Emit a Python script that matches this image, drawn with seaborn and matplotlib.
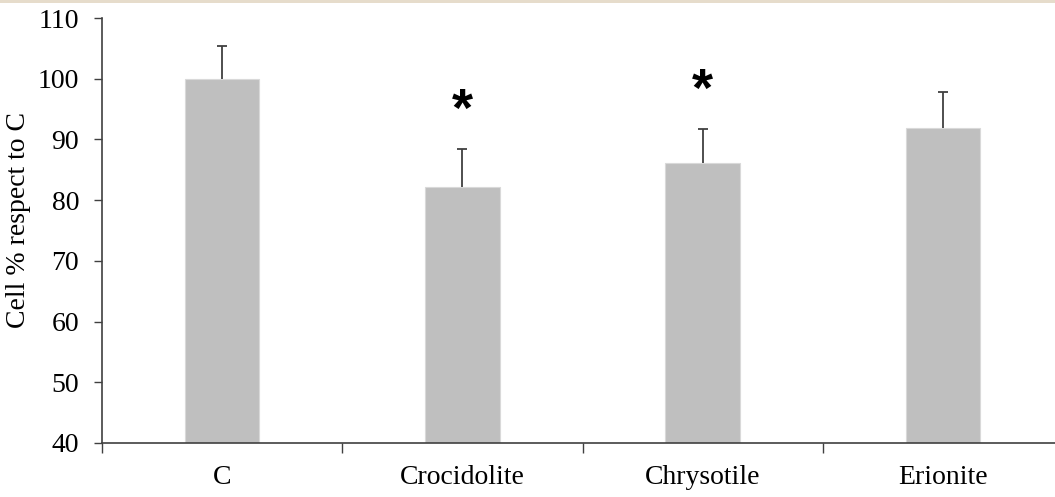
import matplotlib
matplotlib.use("Agg")
import matplotlib.pyplot as plt
import seaborn as sns
import pandas as pd
from matplotlib.patches import Rectangle
from matplotlib.ticker import FixedLocator, NullFormatter

# Cell viability relative to control
categories = ["C", "Crocidolite", "Chrysotile", "Erionite"]
means = [100.0, 82.1, 86.2, 91.9]
errors = [5.4, 6.3, 5.5, 5.9]
significant = [False, True, True, False]

sns.set_theme(style="white")
plt.rcParams["font.family"] = ["Liberation Serif", "DejaVu Serif"]
plt.rcParams["text.color"] = "black"
plt.rcParams["axes.labelcolor"] = "black"
plt.rcParams["xtick.color"] = "black"
plt.rcParams["ytick.color"] = "black"

df = pd.DataFrame({"group": categories, "value": means})

fig = plt.figure(figsize=(10.55, 4.97), dpi=100)
ax = fig.add_axes([0.0967, 0.1087, 0.911, 0.855])

sns.barplot(data=df, x="group", y="value", color="#bfbfbf", saturation=1,
            width=0.31, ax=ax, errorbar=None, edgecolor="#d9d9d9", linewidth=0.8)

# one-sided (upper) error bars, cap only on the top end
_, caps, _ = ax.errorbar(range(len(categories)), means,
                         yerr=[[0] * len(errors), errors],
                         fmt="none", ecolor="#404040", elinewidth=1.3,
                         capsize=3.6, capthick=1.3)
caps[0].set_visible(False)

# significance markers
for i, (m, e, s) in enumerate(zip(means, errors, significant)):
    if s:
        ax.text(i, m + e + 6.2, "*", ha="center", va="center", fontsize=39,
                fontweight="bold", family=["Liberation Sans", "DejaVu Sans"],
                color="black")

ax.set_ylim(40, 110)
ax.set_yticks(range(40, 111, 10))
ax.set_xlim(-0.5, 3.5)
ax.set_xlabel("")
ax.set_ylabel("Cell % respect to C", fontsize=20)
ax.yaxis.set_label_coords(-0.074, 0.525)
ax.tick_params(axis="y", labelsize=20, direction="out", length=6, width=1,
               color="#404040", left=True, pad=10.5)
ax.tick_params(axis="x", labelsize=20, length=0, pad=16)
ax.xaxis.set_minor_locator(FixedLocator([-0.5, 0.5, 1.5, 2.5]))
ax.xaxis.set_minor_formatter(NullFormatter())
ax.tick_params(axis="x", which="minor", direction="out", length=7, width=1,
               color="#404040", bottom=True)

for side in ["top", "right"]:
    ax.spines[side].set_visible(False)
for side in ["left", "bottom"]:
    ax.spines[side].set_color("#404040")
    ax.spines[side].set_linewidth(1.2)

# thin beige strip along the top edge
fig.add_artist(Rectangle((0, 0.993), 1, 0.007, transform=fig.transFigure,
                         facecolor="#e6dccb", edgecolor="none"))

fig.savefig("out.png", dpi=100)
